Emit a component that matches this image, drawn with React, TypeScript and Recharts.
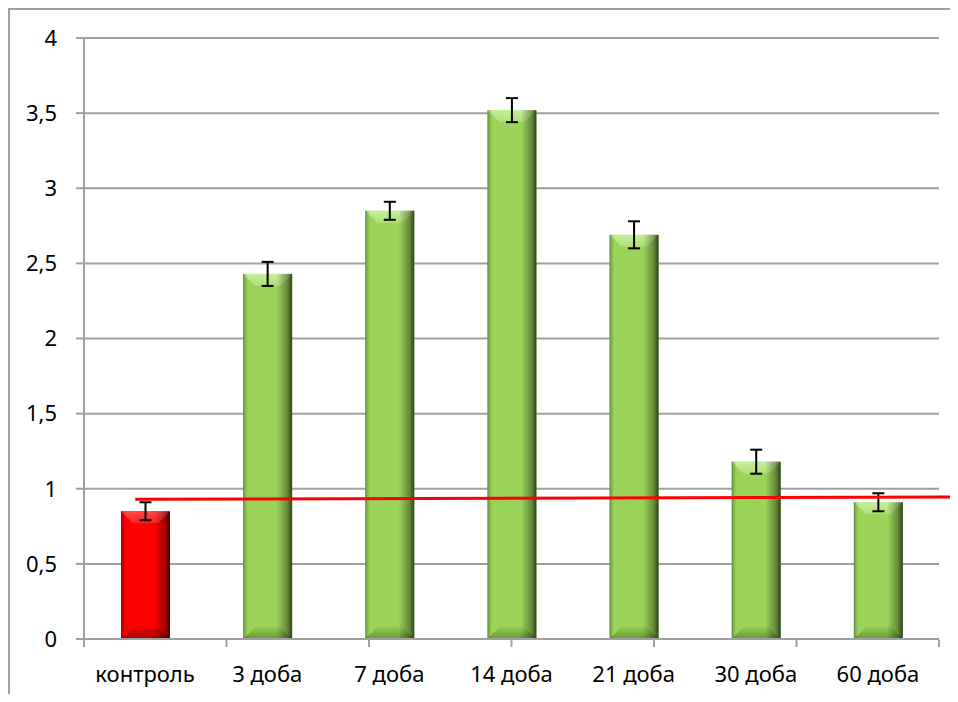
import React from 'react';
import { BarChart, Bar, XAxis, YAxis, CartesianGrid, ErrorBar, ReferenceLine } from 'recharts';

const categories = ['контроль', '3 доба', '7 доба', '14 доба', '21 доба', '30 доба', '60 доба'];
const values = [0.85, 2.43, 2.85, 3.52, 2.69, 1.18, 0.91];
const errors = [0.06, 0.08, 0.06, 0.08, 0.09, 0.08, 0.06];
const kinds = ['control', 'day', 'day', 'day', 'day', 'day', 'day'];
const yTicks = [0, 0.5, 1, 1.5, 2, 2.5, 3, 3.5, 4];
const boundaryTicks = [0, 1, 2, 3, 4, 5, 6, 7];
const trendX = [0.36, 7.09];
const trendY = [0.93, 0.947];

const data = categories.map((c, i) => ({ name: c, value: values[i], err: errors[i], kind: kinds[i] }));

const PALETTE: Record<string, any> = {
  control: { id: 'red', main: '#ff0000', topA: '#ff4a4a', topB: '#ff2020', botA: '#f00000', botB: '#a00000' },
  day: { id: 'green', main: '#9ad55a', topA: '#c6ee9c', topB: '#afe073', botA: '#92cb52', botB: '#6a9a37' },
};

const GRAY = '#a0a0a0';

const BevelBar = (props: any) => {
  const { x, y, width, height, payload } = props;
  if (!height || height <= 0) return null;
  const p = PALETTE[payload.kind];
  const b = Math.min(12, height / 2, width / 2);
  const id = p.id;
  return (
    <g>
      <defs>
        <linearGradient id={`top-${id}`} x1="0" y1="0" x2="0" y2="1">
          <stop offset="0" stopColor={p.topA} />
          <stop offset="1" stopColor={p.topB} />
        </linearGradient>
        <linearGradient id={`bot-${id}`} x1="0" y1="0" x2="0" y2="1">
          <stop offset="0" stopColor={p.botA} />
          <stop offset="1" stopColor={p.botB} />
        </linearGradient>
        <linearGradient id={`shade-${id}`} x1="0" y1="0" x2="1" y2="0">
          <stop offset="0" stopColor="#000" stopOpacity={0.4} />
          <stop offset="0.04" stopColor="#000" stopOpacity={0.15} />
          <stop offset="0.1" stopColor="#000" stopOpacity={0} />
          <stop offset="0.68" stopColor="#000" stopOpacity={0} />
          <stop offset="0.9" stopColor="#000" stopOpacity={0.35} />
          <stop offset="1" stopColor="#000" stopOpacity={0.7} />
        </linearGradient>
      </defs>
      <rect x={x} y={y} width={width} height={height} fill={p.main} />
      <polygon
        points={`${x},${y} ${x + width},${y} ${x + width - b},${y + b} ${x + b},${y + b}`}
        fill={`url(#top-${id})`}
      />
      <polygon
        points={`${x + b},${y + height - b} ${x + width - b},${y + height - b} ${x + width},${y + height} ${x},${y + height}`}
        fill={`url(#bot-${id})`}
      />
      <rect x={x} y={y} width={width} height={height} fill={`url(#shade-${id})`} />
    </g>
  );
};

const fmt = (v: number) => String(v).replace('.', ',');
const blank = () => '';
const tickStyle = { fill: '#000', fontSize: 22, fontFamily: 'Noto Sans' };

export default function App() {
  return (
    <div
      style={{
        width: 950,
        height: 686,
        borderLeft: `2px solid ${GRAY}`,
        borderTop: `2px solid ${GRAY}`,
        boxSizing: 'border-box',
        background: '#fff',
        fontFamily: 'Noto Sans',
      }}
    >
      <BarChart width={948} height={684} data={data} margin={{ top: 28, right: 19, bottom: 53, left: 0 }}>
        <CartesianGrid horizontal vertical={false} stroke={GRAY} strokeWidth={2} />
        <XAxis
          dataKey="name"
          height={1}
          axisLine={{ stroke: GRAY, strokeWidth: 2 }}
          tickLine={false}
          tickSize={8}
          tickMargin={19}
          tick={tickStyle}
          interval={0}
        />
        <XAxis
          xAxisId="num"
          type="number"
          domain={[0, 7]}
          ticks={boundaryTicks}
          allowDataOverflow
          height={1}
          axisLine={false}
          tickFormatter={blank}
          tick={{ fontSize: 1 }}
          tickLine={{ stroke: GRAY, strokeWidth: 2 }}
          tickSize={7}
        />
        <YAxis
          width={74}
          domain={[0, 4]}
          ticks={yTicks}
          interval={0}
          tickFormatter={fmt}
          axisLine={{ stroke: GRAY, strokeWidth: 2 }}
          tickLine={{ stroke: GRAY, strokeWidth: 2 }}
          tickSize={8}
          tickMargin={19}
          tick={tickStyle}
        />
        <Bar dataKey="value" barSize={49} shape={<BevelBar />} isAnimationActive={false}>
          <ErrorBar dataKey="err" width={6} stroke="#000" strokeWidth={2} direction="y" />
        </Bar>
        <ReferenceLine
          xAxisId="num"
          segment={[
            { x: trendX[0], y: trendY[0] },
            { x: trendX[1], y: trendY[1] },
          ]}
          stroke="#ff0000"
          strokeWidth={3}
          ifOverflow="visible"
        />
      </BarChart>
    </div>
  );
}
